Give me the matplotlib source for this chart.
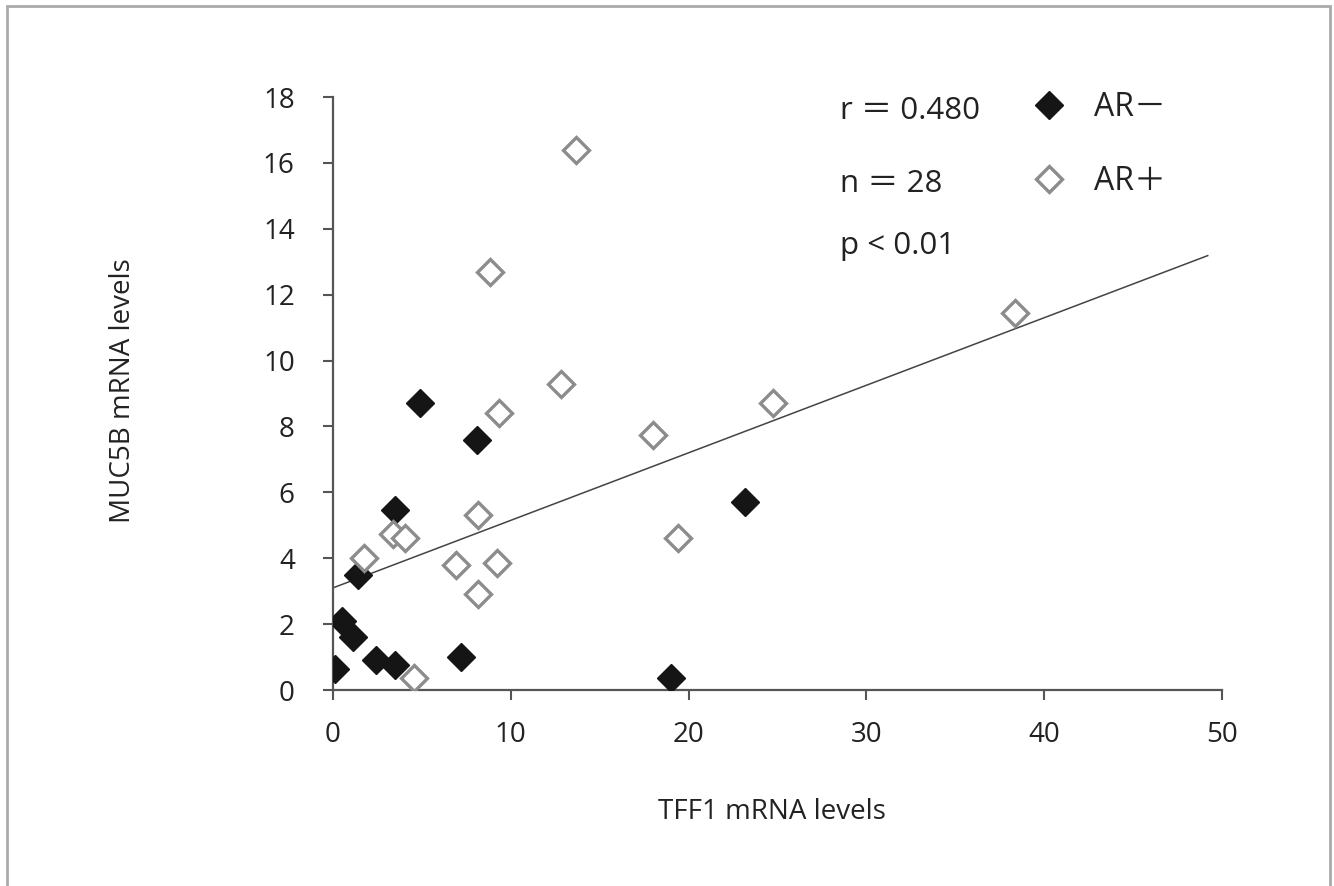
import numpy as np
import matplotlib

matplotlib.use("Agg")
import matplotlib.pyplot as plt
from matplotlib.patches import Rectangle

plt.rcParams["font.family"] = ["Open Sans", "Noto Sans CJK JP", "DejaVu Sans"]

# AR- samples (filled diamonds)
ar_neg_tff1 = [0.1, 0.5, 1.1, 1.4, 2.4, 3.5, 3.5, 4.9, 7.2, 8.1, 19.0, 23.2]
ar_neg_muc5b = [0.65, 2.1, 1.6, 3.5, 0.9, 0.75, 5.45, 8.7, 1.0, 7.6, 0.35, 5.7]

# AR+ samples (open diamonds)
ar_pos_tff1 = [1.75, 3.4, 4.05, 4.55, 6.9, 8.15, 8.15, 8.85, 9.2, 9.35,
               12.8, 13.65, 18.0, 19.4, 24.75, 38.35]
ar_pos_muc5b = [4.0, 4.75, 4.6, 0.35, 3.8, 2.9, 5.3, 12.7, 3.85, 8.4,
                9.3, 16.4, 7.75, 4.6, 8.7, 11.45]

# regression line as drawn in the figure
fit_intercept = 3.1
fit_slope = 0.205
fit_xmax = 49.2

stats_lines = ["r \uff1d 0.480", "n \uff1d 28", "p < 0.01"]
stats_y = [17.33, 15.12, 13.24]

fig = plt.figure(figsize=(13.34, 8.86), dpi=100)
ax = fig.add_axes([0.2496, 0.2212, 0.6664, 0.6693])

ax.plot(ar_neg_tff1, ar_neg_muc5b, linestyle="none", marker="D", markersize=14,
        markerfacecolor="#151515", markeredgecolor="#151515", markeredgewidth=1,
        label="AR\uff0d", zorder=3)
ax.plot(ar_pos_tff1, ar_pos_muc5b, linestyle="none", marker="D", markersize=13.5,
        markerfacecolor="white", markeredgecolor="#8c8c8c", markeredgewidth=2.4,
        label="AR\uff0b", zorder=3)

fx = np.array([0, fit_xmax])
ax.plot(fx, fit_intercept + fit_slope * fx, color="#444444", lw=1.1, zorder=2)

ax.set_xlim(0, 50)
ax.set_ylim(0, 18)
ax.set_xticks(np.arange(0, 51, 10))
ax.set_yticks(np.arange(0, 19, 2))
for side in ["top", "right"]:
    ax.spines[side].set_visible(False)
for side in ["left", "bottom"]:
    ax.spines[side].set_color("#555555")
    ax.spines[side].set_linewidth(1.6)
ax.tick_params(axis="both", direction="out", length=7.5, width=1.5,
               color="#555555", labelsize=20, labelcolor="#222222")
ax.tick_params(axis="y", pad=20)
ax.tick_params(axis="x", pad=15)

ax.set_xlabel("TFF1 mRNA levels", fontsize=20, color="#222222", va="center")
ax.xaxis.set_label_coords(0.494, -0.206)
ax.set_ylabel("MUC5B mRNA levels", fontsize=20, color="#222222", va="center")
ax.yaxis.set_label_coords(-0.2366, 0.505)

for txt, yy in zip(stats_lines, stats_y):
    ax.text(28.5, yy, txt, fontsize=22.5, color="#222222", va="baseline", ha="left")

ax.legend(loc="upper left", bbox_to_anchor=(0.773, 1.031), frameon=False,
          fontsize=23, handlelength=1.0, handletextpad=0.9, labelspacing=1.28,
          borderaxespad=0, labelcolor="#222222")

fig.patches.append(Rectangle((0.0052, -0.01), 0.9918, 1.0032, transform=fig.transFigure,
                             fill=False, edgecolor="#aaaaaa", linewidth=2))

fig.savefig("out.png", dpi=100)
